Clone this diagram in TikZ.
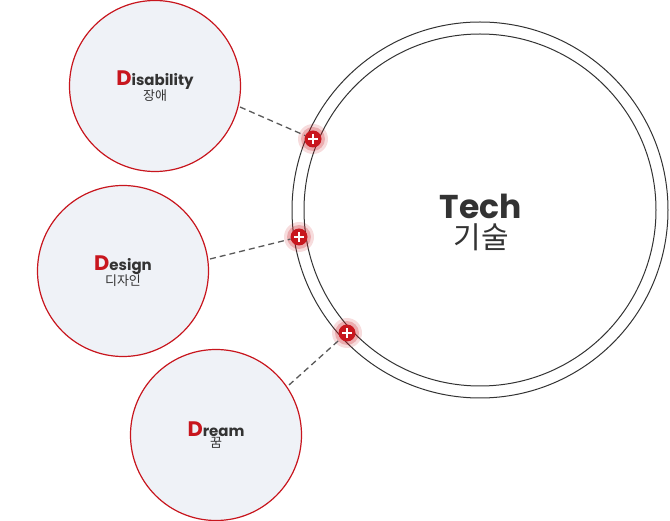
\documentclass[tikz,border=0pt]{standalone}
\usepackage{fontspec}
\setmainfont{Poppins}
\newfontfamily\kr{Noto Sans CJK KR}
\newfontfamily\pop{Poppins}
\definecolor{myred}{HTML}{C8161E}
\definecolor{fillc}{HTML}{EFF2F7}
\definecolor{txt}{HTML}{333333}
\begin{document}
\begin{tikzpicture}[x=1pt,y=-1pt,
  small/.style={circle,draw=myred,line width=1.2pt,fill=fillc,minimum size=171pt,inner sep=0pt,align=center,text=txt},
  conn/.style={draw=black!65,line width=1.3pt,dash pattern=on 6pt off 4pt}]
\useasboundingbox (0,0) rectangle (670,521);
\node[circle,draw=black!80,line width=1pt,minimum size=376pt,inner sep=0pt] (big) at (480,210) {};
\node[circle,draw=black!80,line width=1pt,minimum size=352pt,inner sep=0pt] (bigin) at (480,210) {};
\node[text=txt,align=center] (tech) at (481,222) {{\pop\bfseries\fontsize{33}{36}\selectfont Tech}\\[4pt]{\kr\fontsize{30}{34}\selectfont 기술}};
\node[small] (d1) at (155,86) {{\bfseries\fontsize{15}{18}\selectfont\textcolor{myred}{\fontsize{21}{20}\selectfont D}isability}\\[-1pt]{\kr\fontsize{13}{16}\selectfont 장애}};
\node[small] (d2) at (123,271) {{\bfseries\fontsize{15}{18}\selectfont\textcolor{myred}{\fontsize{21}{20}\selectfont D}esign}\\[-1pt]{\kr\fontsize{13}{16}\selectfont 디자인}};
\node[small] (d3) at (216,435) {{\bfseries\fontsize{15}{18}\selectfont\textcolor{myred}{\fontsize{21}{20}\selectfont D}ream}\\[-1pt]{\kr\fontsize{13}{16}\selectfont 꿈}};
\foreach \n/\px/\py in {p1/313/139,p2/299/237,p3/347/333}{
  \fill[myred,opacity=0.15] (\px,\py) circle (15);
  \fill[myred,opacity=0.25] (\px,\py) circle (12);
  \node[circle,fill=myred,minimum size=17pt,inner sep=0pt] (\n) at (\px,\py) {};
  \draw[white,line width=2pt] (\px-5,\py) -- (\px+5,\py) (\px,\py-5) -- (\px,\py+5);
}
\coordinate (a1) at (240,107);
\coordinate (a2) at (210,259);
\coordinate (a3) at (289,385);
\draw[conn] (a1) -- (p1);
\draw[conn] (a2) -- (p2);
\draw[conn] (a3) -- (p3);
\end{tikzpicture}
\end{document}
